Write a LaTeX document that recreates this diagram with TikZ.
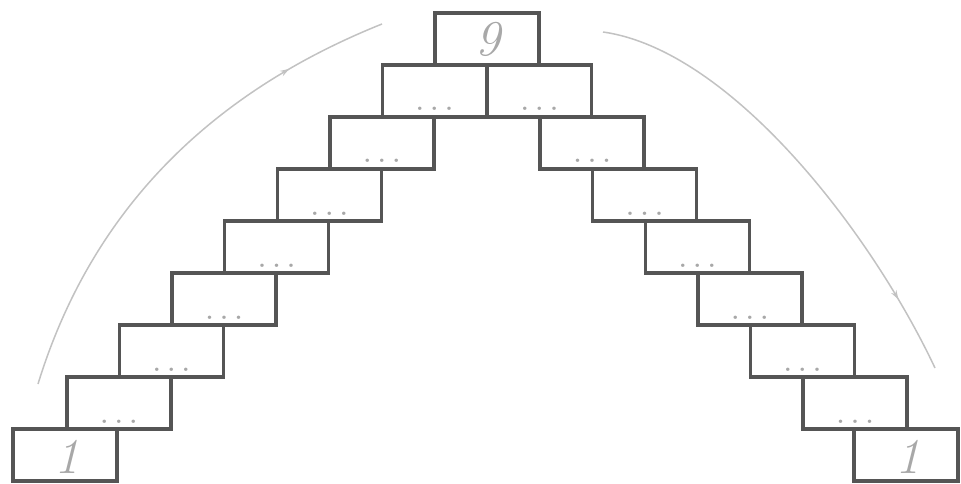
\documentclass[tikz,border=0pt]{standalone}
\usetikzlibrary{decorations.markings,arrows.meta}
\definecolor{boxline}{HTML}{555555}
\definecolor{faint}{HTML}{A8A8A8}
\definecolor{arcgray}{HTML}{C2C2C2}
\tikzset{
  brick/.style={draw=boxline,line width=3.4pt,minimum width=104pt,minimum height=52pt,inner sep=0pt,outer sep=0pt},
  dotlabel/.style={text=faint,font=\bfseries\fontsize{24}{24}\selectfont,inner sep=0pt,anchor=base},
  numlabel/.style={text=faint,font=\itshape\fontsize{50}{50}\selectfont,inner sep=0pt},
  flowarc/.style={draw=arcgray,line width=1.5pt,postaction=decorate},
  midarrow/.style={decoration={markings,mark=at position #1 with {\arrow{Stealth[length=9pt,width=6pt]}}}},
}
\begin{document}
\begin{tikzpicture}[x=1pt,y=-1pt]
\path[use as bounding box] (0,0) rectangle (961,484);
% top brick
\node[brick] (T) at (487,39) {};
\node[numlabel] (T9) at ([xshift=1pt]T.center) {9};
% rows 2..8
\foreach \r in {2,...,8}{
  \pgfmathsetmacro{\dx}{52.5+52.6*(\r-2)}
  \pgfmathsetmacro{\yy}{39+52*(\r-1)}
  \node[brick] (L\r) at (487-\dx,\yy) {};
  \node[brick] (R\r) at (487+\dx,\yy) {};
  \node[dotlabel] (dL\r) at ([yshift=6pt]L\r.south) {.\hspace{7pt}.\hspace{7pt}.};
  \node[dotlabel] (dR\r) at ([yshift=6pt]R\r.south) {.\hspace{7pt}.\hspace{7pt}.};
}
% bottom row
\node[brick] (L9) at (65,455) {};
\node[brick] (R9) at (906,455) {};
\node[numlabel] (L1) at ([xshift=2pt,yshift=-2pt]L9.center) {1};
\node[numlabel] (R1) at ([xshift=2pt,yshift=-2pt]R9.center) {1};
% arcs
\coordinate (aLs) at (38,384);
\coordinate (aLe) at (382,24);
\coordinate (aRs) at (603,32);
\coordinate (aRe) at (935,368);
\draw[flowarc,midarrow=0.8] (aLs) .. controls (90,215) and (205,95) .. (aLe);
\draw[flowarc,midarrow=0.84] (aRs) .. controls (730,50) and (870,230) .. (aRe);
\end{tikzpicture}
\end{document}
